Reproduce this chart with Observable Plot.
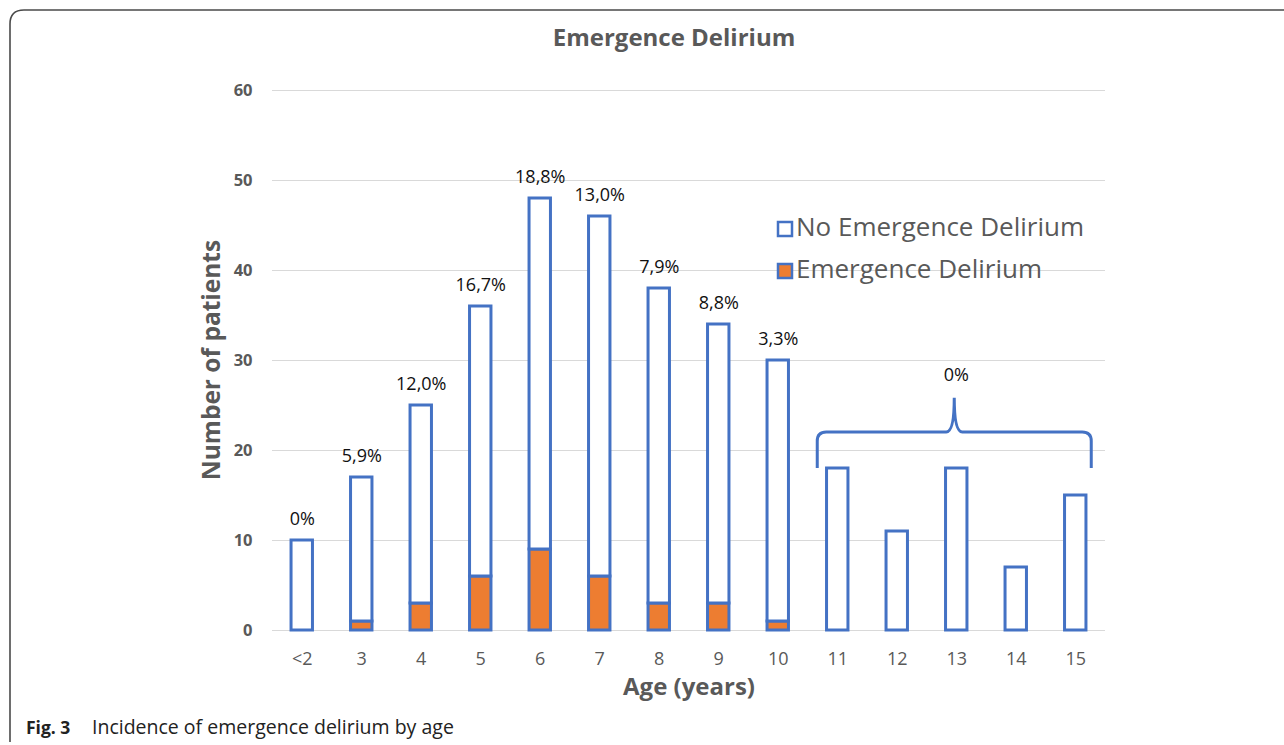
<!DOCTYPE html>
<html>
<head>
<meta charset="utf-8">
<script src="https://cdn.jsdelivr.net/npm/d3@7"></script>
<script src="https://cdn.jsdelivr.net/npm/@observablehq/plot@0.6"></script>
<style>
  html, body { margin: 0; padding: 0; background: #fff; }
  #chart { width: 1284px; height: 745px; position: relative; }
</style>
</head>
<body>
<div id="chart"></div>
<script>
const ages = ["<2", "3", "4", "5", "6", "7", "8", "9", "10", "11", "12", "13", "14", "15"];
const totalPatients = [10, 17, 25, 36, 48, 46, 38, 34, 30, 18, 11, 18, 7, 15];
const deliriumPatients = [0, 1, 3, 6, 9, 6, 3, 3, 1, 0, 0, 0, 0, 0];
const pctLabels = ["0%", "5,9%", "12,0%", "16,7%", "18,8%", "13,0%", "7,9%", "8,8%", "3,3%", null, null, null, null, null];
const yTicks = [0, 10, 20, 30, 40, 50, 60];
const braceAges = ["11", "15"];
const braceLabel = "0%";
const seriesNames = ["No Emergence Delirium", "Emergence Delirium"];

const BLUE = "#4472C4", ORANGE = "#ED7D31", GRAY = "#595959";
const FONT = "'Open Sans', sans-serif";

const rows = ages.map((a, i) => ({
  age: a, total: totalPatients[i], ed: deliriumPatients[i], label: pctLabels[i]
}));

const plot = Plot.plot({
  width: 1284,
  height: 745,
  marginLeft: 272,
  marginRight: 179,
  marginTop: 90,
  marginBottom: 115,
  style: { fontFamily: FONT, background: "#fff", overflow: "visible" },
  x: { domain: ages, paddingInner: 0.64, paddingOuter: 0.32, align: 0.5, round: false, label: null },
  y: { domain: [0, 60], ticks: yTicks, label: null },
  marks: [
    Plot.gridY(yTicks, { stroke: "#d9d9d9", strokeOpacity: 1, strokeWidth: 1.2 }),
    Plot.axisY({ ticks: yTicks, tickSize: 0, tickPadding: 20, fontSize: 16.5, fontWeight: "bold", fill: GRAY, label: null }),
    Plot.axisX({ tickSize: 0, tickPadding: 22, fontSize: 18, fill: GRAY, label: null }),
    Plot.barY(rows, { x: "age", y1: 0, y2: "ed", fill: ORANGE, stroke: BLUE, strokeWidth: 3 }),
    Plot.barY(rows, { x: "age", y1: "ed", y2: "total", fill: "#fff", stroke: BLUE, strokeWidth: 3 }),
    Plot.text(rows.filter(d => d.label), { x: "age", y: "total", text: "label", dy: -21, fontSize: 18, fill: "#111" })
  ]
});

document.getElementById("chart").appendChild(plot);

const svg = d3.select(plot);
const xs = plot.scale("x"), ys = plot.scale("y");
const bw = xs.bandwidth;
const cx = a => xs.apply(a) + bw / 2;

// frame
svg.append("path")
  .attr("d", "M10,742 L10,24 Q10,10 24,10 L1284,10")
  .attr("fill", "none").attr("stroke", "#4a4a4a").attr("stroke-width", 1.6);

// title
svg.append("text").attr("x", 674).attr("y", 40).attr("text-anchor", "middle").attr("dominant-baseline", "middle")
  .attr("font-family", FONT).attr("font-size", 24).attr("font-weight", "bold").attr("fill", GRAY)
  .text("Emergence Delirium");

// axis titles
svg.append("text").attr("x", 689).attr("y", 689).attr("text-anchor", "middle").attr("dominant-baseline", "middle")
  .attr("font-family", FONT).attr("font-size", 24).attr("font-weight", "bold").attr("fill", GRAY)
  .text("Age (years)");
svg.append("text").attr("transform", "translate(213,360) rotate(-90)").attr("text-anchor", "middle").attr("dominant-baseline", "middle")
  .attr("font-family", FONT).attr("font-size", 24.5).attr("font-weight", "bold").attr("fill", GRAY)
  .text("Number of patients");

// brace over ages 11-15
const bx0 = cx(braceAges[0]) - 20;
const bx1 = cx(braceAges[1]) + 16;
const yTop = ys.apply(22), yEnd = ys.apply(18), ym = ys.apply(25.8);
const bm = (bx0 + bx1) / 2;
const r = 9;
svg.append("path")
  .attr("d", `M${bx0},${yEnd} L${bx0},${yTop + r} Q${bx0},${yTop} ${bx0 + r},${yTop} L${bm - 8},${yTop} Q${bm},${yTop} ${bm},${ym}` +
             ` Q${bm},${yTop} ${bm + 8},${yTop} L${bx1 - r},${yTop} Q${bx1},${yTop} ${bx1},${yTop + r} L${bx1},${yEnd}`)
  .attr("fill", "none").attr("stroke", BLUE).attr("stroke-width", 3);
svg.append("text").attr("x", bm + 2).attr("y", ym - 22).attr("text-anchor", "middle").attr("dominant-baseline", "middle")
  .attr("font-family", FONT).attr("font-size", 18).attr("fill", "#111").text(braceLabel);

// legend
const leg = svg.append("g").attr("font-family", FONT).attr("text-anchor", "start");
[["#fff", 229], [ORANGE, 271]].forEach(([fill, y], i) => {
  leg.append("rect").attr("x", 778).attr("y", y - 7).attr("width", 14).attr("height", 14)
    .attr("fill", fill).attr("stroke", BLUE).attr("stroke-width", 2.5);
  leg.append("text").attr("x", 796).attr("y", y).attr("dominant-baseline", "middle").attr("text-anchor", "start")
    .attr("font-size", 26).attr("fill", GRAY).text(seriesNames[i]);
});

// caption
svg.append("text").attr("x", 26).attr("y", 729).attr("dominant-baseline", "middle").attr("text-anchor", "start")
  .attr("font-family", FONT).attr("font-size", 17.5).attr("font-weight", "bold").attr("fill", "#222").text("Fig. 3");
svg.append("text").attr("x", 92).attr("y", 729).attr("dominant-baseline", "middle").attr("text-anchor", "start")
  .attr("font-family", FONT).attr("font-size", 19.5).attr("fill", "#222").text("Incidence of emergence delirium by age");
</script>
</body>
</html>
